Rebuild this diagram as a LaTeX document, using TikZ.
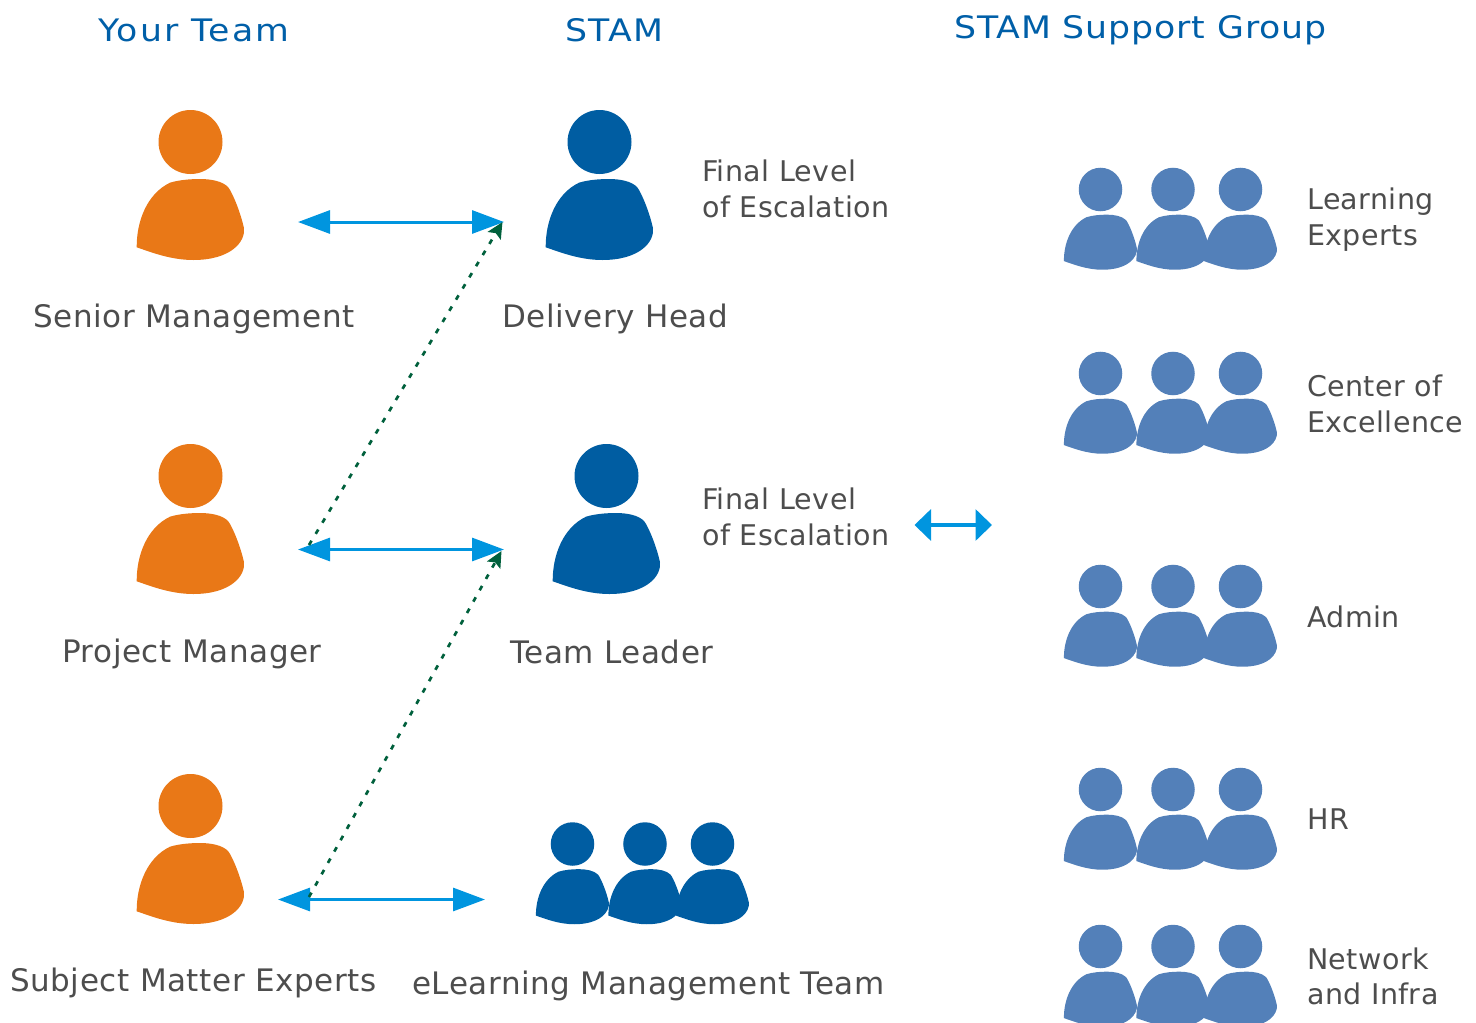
\documentclass[tikz,border=0pt]{standalone}
\usepackage{fontspec}
\setmainfont{DejaVu Sans}
\newfontface\lblface[LetterSpace=1.9]{DejaVu Sans}
\newfontface\sideface[LetterSpace=1.5]{DejaVu Sans}
\newfontface\headA[LetterSpace=6.5,FakeStretch=1.12]{DejaVu Sans}
\newfontface\headB[LetterSpace=4.3,FakeStretch=1.12]{DejaVu Sans}
\newfontface\headC[LetterSpace=2.8,FakeStretch=1.12]{DejaVu Sans}
\usetikzlibrary{arrows.meta}
\definecolor{orangeP}{HTML}{E97817}
\definecolor{darkP}{HTML}{005DA2}
\definecolor{lightP}{HTML}{5380B9}
\definecolor{arrowB}{HTML}{0095DF}
\definecolor{titleC}{HTML}{005FA8}
\definecolor{textC}{HTML}{4D4D4D}
\definecolor{greenA}{HTML}{00603C}
\tikzset{
  pics/person/.style={code={
    \fill[#1] (0,0) circle[radius=32];
    \fill[#1] (-53.8,105.3) .. controls (-54,80) and (-44,52) .. (-20.5,40.7)
      .. controls (-12,38) and (0,37) .. (9.5,37)
      .. controls (20,37) and (32,39) .. (37.8,45.3)
      .. controls (42,51) and (50,70) .. (53.5,86.3)
      .. controls (55,100) and (40,118) .. (2.8,118)
      .. controls (-20,118) and (-40,110) .. (-53.8,105.3) -- cycle;
  }},
  pics/trio/.style={code={
    \pic[scale=.68] at (0,0) {person=#1};
    \pic[scale=.68] at (72.5,0) {person=#1};
    \pic[scale=.68] at (140,0) {person=#1};
  }},
  lbl/.style={anchor=base west,inner sep=0pt,text=textC,font=\lblface\fontsize{31}{36}\selectfont},
  sidelbl/.style={anchor=base west,inner sep=0pt,text=textC,font=\sideface\fontsize{28.5}{36}\selectfont},
  head/.style={anchor=base west,inner sep=0pt,text=titleC},
  link/.style={draw=arrowB,line width=3pt,{Triangle[length=32pt,width=23pt]}-{Triangle[length=32pt,width=23pt]}},
  biglink/.style={draw=arrowB,line width=3.6pt,{Triangle[length=16.5pt,width=31pt]}-{Triangle[length=16.5pt,width=31pt]}},
  esc/.style={draw=greenA,line width=2.7pt,dash pattern=on 5pt off 8pt,-{Stealth[length=16pt,width=15pt,inset=3pt]}},
}
\begin{document}
\begin{tikzpicture}[x=1pt,y=-1pt]
\useasboundingbox (0,0) rectangle (1476,1023);
% titles
\node[head,font=\headA\fontsize{31}{36}\selectfont] (tYour) at (98,41) {Your Team};
\node[head,font=\headB\fontsize{31}{36}\selectfont] (tStam) at (565,41) {STAM};
\node[head,font=\headC\fontsize{31}{36}\selectfont] (tSup) at (954,38) {STAM Support Group};
% people
\pic at (190.5,142) {person=orangeP};
\pic at (190.5,476) {person=orangeP};
\pic at (190.5,806) {person=orangeP};
\pic at (599.5,142) {person=darkP};
\pic at (606.5,476) {person=darkP};
\pic at (572.5,844) {trio=darkP};
\pic at (1100.5,189.5) {trio=lightP};
\pic at (1100.5,373.5) {trio=lightP};
\pic at (1100.5,586.5) {trio=lightP};
\pic at (1100.5,789.5) {trio=lightP};
\pic at (1100.5,946.5) {trio=lightP};
% labels
\node[lbl] (lSenior) at (33,327) {Senior Management};
\node[lbl] (lDel) at (502,327) {Delivery Head};
\node[lbl] (lPM) at (62,662) {Project Manager};
\node[lbl] (lTL) at (510,663) {Team Leader};
\node[lbl] (lSME) at (10,991) {Subject Matter Experts};
\node[lbl] (lEL) at (412,994) {eLearning Management Team};
\node[sidelbl] (f1a) at (702,181) {Final Level};
\node[sidelbl] (f1b) at (702,217) {of Escalation};
\node[sidelbl] (f2a) at (702,509) {Final Level};
\node[sidelbl] (f2b) at (702,545) {of Escalation};
\node[sidelbl] (s1a) at (1307,209) {Learning};
\node[sidelbl] (s1b) at (1307,245) {Experts};
\node[sidelbl] (s2a) at (1307,396) {Center of};
\node[sidelbl] (s2b) at (1307,432) {Excellence};
\node[sidelbl] (s3) at (1307,627) {Admin};
\node[sidelbl] (s4) at (1307,829) {HR};
\node[sidelbl] (s5a) at (1307,969) {Network};
\node[sidelbl] (s5b) at (1307,1004) {and Infra};
% connector ends
\coordinate (a1l) at (298,222); \coordinate (a1r) at (504,222);
\coordinate (a2l) at (298,549.5); \coordinate (a2r) at (504,549.5);
\coordinate (a3l) at (278,899.5); \coordinate (a3r) at (485,899.5);
\coordinate (a4l) at (914.5,525); \coordinate (a4r) at (992,525);
\coordinate (e1s) at (309,545); \coordinate (e1t) at (502.5,222);
\coordinate (e2s) at (309,897); \coordinate (e2t) at (501.5,551);
\draw[link] (a1l) -- (a1r);
\draw[link] (a2l) -- (a2r);
\draw[link] (a3l) -- (a3r);
\draw[biglink] (a4l) -- (a4r);
\draw[esc] (e1s) -- (e1t);
\draw[esc] (e2s) -- (e2t);
\end{tikzpicture}
\end{document}
